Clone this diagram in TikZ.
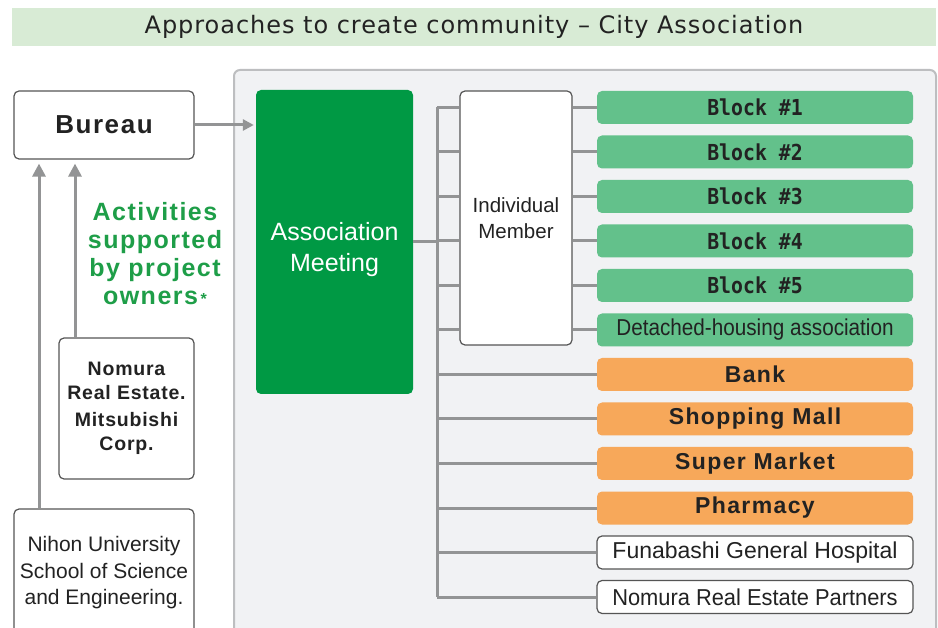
\documentclass[tikz,border=0pt]{standalone}
\usepackage{fontspec}
\setmainfont{Liberation Sans}
\newfontfamily\titlefont[LetterSpace=4]{DejaVu Sans}
\newfontfamily\widefont[LetterSpace=6]{Liberation Sans}
\newfontfamily\nomurafont[LetterSpace=4]{Liberation Sans}
\newfontfamily\narrowfont[FakeStretch=0.9]{Liberation Sans}
\newfontfamily\partnerfont[FakeStretch=0.95]{Liberation Sans}
\newfontfamily\blockfont[FakeStretch=0.9]{DejaVu Sans Mono}
\usetikzlibrary{arrows.meta, positioning}
\definecolor{bandgreen}{HTML}{D8EBD5}
\definecolor{panelfill}{HTML}{F1F2F4}
\definecolor{panelline}{HTML}{BDBEC0}
\definecolor{meetgreen}{HTML}{009944}
\definecolor{blockgreen}{HTML}{63C18B}
\definecolor{shoporange}{HTML}{F7A85A}
\definecolor{linegray}{HTML}{939495}
\definecolor{boxgray}{HTML}{555555}
\definecolor{textdark}{HTML}{222222}
\definecolor{labelgreen}{HTML}{1E9E48}
\tikzset{
    whitebox/.style={rectangle, draw=boxgray, line width=1.2pt, rounded corners=5pt, fill=white, align=center, text=textdark, inner sep=0pt},
    meeting/.style={rectangle, rounded corners=5pt, fill=meetgreen, text=white, align=center, inner sep=0pt},
    rowbox/.style={rectangle, rounded corners=5pt, minimum width=316pt, minimum height=33pt, inner sep=0pt, text=textdark},
    blockrow/.style={rowbox, fill=blockgreen, font=\blockfont\bfseries\fontsize{22}{24}\selectfont},
    shoprow/.style={rowbox, fill=shoporange, font=\widefont\bfseries\fontsize{23}{25}\selectfont},
    otherrow/.style={rowbox, fill=white, draw=boxgray, line width=1.2pt, font=\fontsize{23}{25}\selectfont},
    link/.style={draw=linegray, line width=3pt},
    uparrow/.style={link, -{Triangle[length=13pt, width=13pt]}, shorten >=4pt},
    rightarrow/.style={link, -{Triangle[length=11pt, width=11pt]}, shorten >=2pt}
}
\begin{document}
\begin{tikzpicture}[x=1pt, y=-1pt]
\useasboundingbox (0,0) rectangle (938,628);
\fill[white] (0,0) rectangle (938,628);
\node[rectangle, fill=bandgreen, minimum width=924pt, minimum height=38pt, inner sep=0pt, text=textdark, font=\titlefont\fontsize{24}{26}\selectfont] (title) at (474,27) {Approaches to create community – City Association};
\draw[panelline, fill=panelfill, line width=2pt, rounded corners=6pt] (234,70) rectangle (936,670);

\node[whitebox, minimum width=180pt, minimum height=68pt, font=\widefont\bfseries\fontsize{26}{28}\selectfont] (bureau) at (104,125) {Bureau};
\node[text=labelgreen, align=center, font=\widefont\bfseries\fontsize{25}{28}\selectfont] (support) at (155,254) {Activities\\supported\\by project\\owners{\fontsize{16}{16}\selectfont\,*}};
\node[whitebox, minimum width=135pt, minimum height=141pt, font=\nomurafont\bfseries\fontsize{19.5}{24}\selectfont] (nomura) at (126.5,408.5) {Nomura\\Real Estate.\\[3pt]Mitsubishi\\Corp.};
\node[whitebox, minimum width=180pt, minimum height=128pt, font=\fontsize{21}{26.5}\selectfont] (nihon) at (104,573) {Nihon University\\School of Science\\and Engineering.};

\node[meeting, minimum width=157pt, minimum height=304pt,
    label={[yshift=-8pt, text=white, align=center, font=\fontsize{25}{31}\selectfont]center:Association\\Meeting}] (meeting) at (334.5,242) {};
\node[whitebox, minimum width=112pt, minimum height=254pt, font=\fontsize{20.5}{26}\selectfont] (member) at (516,218) {Individual\\Member};

\foreach \i in {1,...,5}
    \node[blockrow] (r\i) at (755,63+44.5*\i) {Block \#\i};
\node[rowbox, fill=blockgreen, font=\narrowfont\fontsize{23}{25}\selectfont] (r6) at (755,330) {Detached-housing association};
\node[shoprow] (r7) at (755,374.5) {Bank};
\node[shoprow] (r8) at (755,419) {Shopping Mall};
\node[shoprow] (r9) at (755,463.5) {Super Market};
\node[shoprow] (r10) at (755,508) {Pharmacy};
\node[otherrow] (r11) at (755,552.5) {Funabashi General Hospital};
\node[otherrow, font=\partnerfont\fontsize{23}{25}\selectfont] (r12) at (755,597) {Nomura Real Estate Partners};

\coordinate (trunk) at (437,0);
\draw[link] (trunk |- r1.west) -- (trunk |- r12.west);
\draw[link] (meeting.east) -- (meeting.east -| trunk);
\foreach \i in {1,...,6} {
    \draw[link] (trunk |- r\i.west) -- (r\i.west -| member.west);
    \draw[link] (r\i.west -| member.east) -- (r\i.west);
}
\foreach \i in {7,...,12}
    \draw[link] (trunk |- r\i.west) -- (r\i.west);

\draw[rightarrow] (bureau.east) -- (bureau.east -| meeting.west);
\draw[uparrow] ([xshift=-65pt]nihon.north) -- ([xshift=-65pt]bureau.south);
\draw[uparrow] ([xshift=-51.5pt]nomura.north) -- ([xshift=-29pt]bureau.south);
\end{tikzpicture}
\end{document}
